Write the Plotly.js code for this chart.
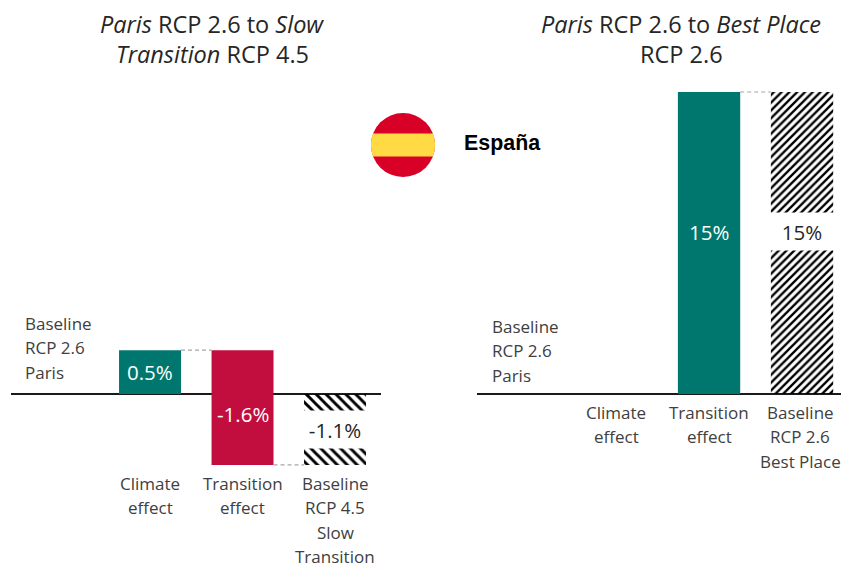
<!DOCTYPE html>
<html>
<head>
<meta charset="utf-8">
<script src="https://cdn.plot.ly/plotly-3.0.1.min.js"></script>
<style>html,body{margin:0;padding:0;background:#fff}</style>
</head>
<body>
<div id="chart" style="width:841px;height:563px"></div>
<script>
// Values. The source bars are not drawn to scale,
// so bar extents (in axis units) are kept apart from the printed labels.
const leftPositions = [0, 1, 2];
const leftBarBase = [0, 0.68, 0];
const leftBarExtent = [0.68, -1.78, -1.1];
const leftValueLabels = ['0.5%', '-1.6%', '-1.1%'];
const leftValueAt = [0.34, -0.31, -0.55];
const leftCategoryLines = [['Climate', 'effect'], ['Transition', 'effect'], ['Baseline', 'RCP 4.5', 'Slow', 'Transition']];
const leftBaselineLines = ['Baseline', 'RCP 2.6', 'Paris'];
const leftTitleLines = ['<i>Paris</i> RCP 2.6 to <i>Slow</i>', '<i>Transition</i> RCP 4.5'];

const rightPositions = [0, 1, 2];
const rightBarBase = [0, 0, 0];
const rightBarExtent = [0, 15, 15];
const rightValueLabels = ['15%', '15%'];
const rightValueAt = [8.07, 8.07];
const rightCategoryLines = [['Climate', 'effect'], ['Transition', 'effect'], ['Baseline', 'RCP 2.6', 'Best Place']];
const rightBaselineLines = ['Baseline', 'RCP 2.6', 'Paris'];
const rightTitleLines = ['<i>Paris</i> RCP 2.6 to <i>Best Place</i>', 'RCP 2.6'];
const countryName = 'España';

const W = 841, H = 563;
const px = x => x / W, py = y => 1 - y / H;
const TEAL = '#00776E', RED = '#C20E3E', TXT = '#404040', FONT = '"Open Sans", sans-serif';
const LABEL = 17, VALUE = 20.5, TITLE = 23.5;

function lineNote(text, x, y, opts) {
  return Object.assign({
    text, x: px(x), y: py(y), xref: 'paper', yref: 'paper',
    xanchor: 'center', yanchor: 'middle', showarrow: false,
    font: {family: FONT, size: LABEL, color: TXT}
  }, opts || {});
}

const annotations = [];
[[leftTitleLines, 212], [rightTitleLines, 681]].forEach(([lines, cx]) =>
  lines.forEach((t, i) => annotations.push(lineNote(t, cx, 23.5 + 31 * i, {font: {family: FONT, size: TITLE, color: '#262626'}}))));
leftBaselineLines.forEach((t, i) => annotations.push(lineNote(t, 23, 323 + 24.5 * i, {xanchor: 'left'})));
rightBaselineLines.forEach((t, i) => annotations.push(lineNote(t, 490, 326 + 24.5 * i, {xanchor: 'left'})));
leftCategoryLines.forEach((lines, c) => lines.forEach((t, i) =>
  annotations.push({text: t, x: leftPositions[c], xref: 'x', y: py(483 + 24.5 * i), yref: 'paper',
    xanchor: 'center', yanchor: 'middle', showarrow: false, font: {family: FONT, size: LABEL, color: TXT}})));
rightCategoryLines.forEach((lines, c) => lines.forEach((t, i) =>
  annotations.push({text: t, x: rightPositions[c], xref: 'x2', xshift: c === 2 ? -2 : 0, y: py(412 + 24.5 * i), yref: 'paper',
    xanchor: 'center', yanchor: 'middle', showarrow: false, font: {family: FONT, size: LABEL, color: TXT}})));

// value labels
[0, 1, 2].forEach(i => {
  const hatched = i === 2;
  annotations.push(Object.assign({text: leftValueLabels[i], x: leftPositions[i], y: leftValueAt[i], xref: 'x', yref: 'y',
    showarrow: false, font: {family: FONT, size: VALUE, color: hatched ? '#262626' : '#FFFFFF'}},
    hatched ? {bgcolor: '#FFFFFF', width: 72, height: 37, borderpad: 0} : {}));
});
[1, 2].forEach((c, i) => {
  const hatched = c === 2;
  annotations.push(Object.assign({text: rightValueLabels[i], x: rightPositions[c], y: rightValueAt[i], xref: 'x2', yref: 'y2',
    showarrow: false, font: {family: FONT, size: VALUE, color: hatched ? '#262626' : '#FFFFFF'}},
    hatched ? {bgcolor: '#FFFFFF', width: 72, height: 37, borderpad: 0} : {}));
});
annotations.push({text: '<b>' + countryName + '</b>', x: px(462), y: py(143), xref: 'paper', yref: 'paper',
  xanchor: 'left', yanchor: 'middle', showarrow: false, font: {family: 'Liberation Sans, Arial, sans-serif', size: 21.4, color: '#000'}});

// Flag emblem (decoration, not data)
const fx = 403, fy = 145, fr = 32, band = 11.5;
const bandEdge = Math.asin(band / fr);
let bandPts = [];
for (let k = 0; k <= 12; k++) { const a = -bandEdge + 2 * bandEdge * k / 12; bandPts.push([fx + fr * Math.cos(a), fy + fr * Math.sin(a)]); }
for (let k = 0; k <= 12; k++) { const a = Math.PI - bandEdge + 2 * bandEdge * k / 12; bandPts.push([fx + fr * Math.cos(a), fy + fr * Math.sin(a)]); }
const bandPath = 'M' + bandPts.map(p => px(p[0]) + ',' + py(p[1])).join('L') + 'Z';
const shapes = [
  {type: 'circle', xref: 'paper', yref: 'paper', x0: px(fx - fr), x1: px(fx + fr), y0: py(fy + fr), y1: py(fy - fr), fillcolor: '#D80027', line: {width: 0}},
  {type: 'path', xref: 'paper', yref: 'paper', path: bandPath, fillcolor: '#FFDA44', line: {width: 0}}
];

const connector = (x, y, xa, ya) => ({type: 'scatter', mode: 'lines', x, y, xaxis: xa, yaxis: ya,
  line: {color: '#A6A6A6', width: 1.2, dash: '4px,3px'}, hoverinfo: 'skip', showlegend: false});

// With per-point colours Plotly paints the pattern stripes in the point's colour, so the hatched bar is black on white.
const pattern = (shape, size) => ({shape: ['', '', shape], bgcolor: '#FFFFFF', size, solidity: 0.42});

const data = [
  {type: 'bar', x: leftPositions, y: leftBarExtent, base: leftBarBase, width: 0.67, xaxis: 'x', yaxis: 'y', showlegend: false,
    marker: {color: [TEAL, RED, '#000000'], line: {width: 0}, pattern: pattern('\\', 7)}},
  {type: 'bar', x: rightPositions, y: rightBarExtent, base: rightBarBase, width: 0.67, xaxis: 'x2', yaxis: 'y2', showlegend: false,
    marker: {color: [TEAL, TEAL, '#000000'], line: {width: 0}, pattern: pattern('/', 5.5)}},
  connector([0.335, 0.665], [0.68, 0.68], 'x', 'y'),
  connector([1.335, 1.665], [-1.1, -1.1], 'x', 'y'),
  connector([1.335, 1.665], [15, 15], 'x2', 'y2')
];

const axisX = (domain, range) => ({domain, range, visible: false, fixedrange: true});
const axisY = (range, anchor) => ({domain: [0, 1], range, anchor, showgrid: false, showticklabels: false, ticks: '',
  zeroline: true, zerolinecolor: '#1A1A1A', zerolinewidth: 1.3, showline: false, fixedrange: true});

const layout = {
  width: W, height: H, margin: {l: 0, r: 0, t: 0, b: 0},
  paper_bgcolor: '#FFFFFF', plot_bgcolor: 'rgba(0,0,0,0)',
  barmode: 'overlay', showlegend: false,
  xaxis: axisX([px(11), px(381)], [-1.503, 2.497]),
  yaxis: axisY([-2.62, 6.11], 'x'),
  xaxis2: axisX([px(477), 1], [-1.495, 2.419]),
  yaxis2: axisY([-8.395, 19.57], 'x2'),
  annotations, shapes
};
Plotly.newPlot('chart', data, layout, {staticPlot: true, displayModeBar: false});
</script>
</body>
</html>
